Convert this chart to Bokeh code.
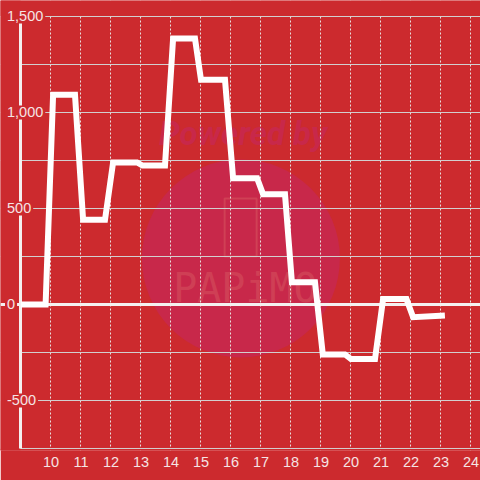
from bokeh.plotting import figure
from bokeh.models import Label, Span, FixedTicker, Range1d, BoxAnnotation
from bokeh.core.properties import value
from bokeh.embed import file_html
from bokeh.resources import INLINE

# ---- data ----
HOURS = [9.0, 9.82, 10.07, 10.8, 11.07, 11.8, 12.07, 12.87, 13.05, 13.8,
         14.07, 14.8, 15.0, 15.8, 16.07, 16.87, 17.07, 17.8, 18.03, 18.8,
         19.06, 19.8, 20.0, 20.8, 21.07, 21.85, 22.07, 23.13]
VALUES = [0, 0, 1092, 1092, 441, 441, 740, 740, 724, 724,
          1385, 1385, 1170, 1170, 658, 658, 574, 574, 116, 116,
          -260, -260, -284, -284, 28, 28, -66, -57]
X_TICKS = list(range(10, 25))
Y_LABEL_TICKS = [-500, 0, 500, 1000, 1500]
Y_GRID_TICKS = [-750, -500, -250, 0, 250, 500, 750, 1000, 1250, 1500]

BG = "#cc2a2e"
TXT = "#f5e4e4"
GRID = "#d2cfcf"
X_START, X_END = 8.3167, 24.3167
X_AXIS = 8.9833
Y_BOTTOM, Y_TOP = -750, 1500
Y_START, Y_END = -760.42, 1583.33

p = figure(width=480, height=480, output_backend="svg", toolbar_location=None,
           x_range=Range1d(X_START, X_END), y_range=Range1d(Y_START, Y_END),
           min_border_left=0, min_border_right=0, min_border_top=0,
           min_border_bottom=30)
p.styles = {"margin-left": "0px", "margin-top": "0px"}
p.background_fill_color = BG
p.border_fill_color = BG
p.outline_line_color = None

# grids
p.xgrid.ticker = FixedTicker(ticks=X_TICKS)
p.xgrid.grid_line_color = "#e8dede"
p.xgrid.grid_line_dash = "2 2"
p.xgrid.grid_line_width = 1
p.ygrid.ticker = FixedTicker(ticks=Y_GRID_TICKS)
p.ygrid.grid_line_color = GRID
p.ygrid.grid_line_width = 1

# x axis (labels only; line drawn below)
p.xaxis.ticker = FixedTicker(ticks=X_TICKS)
p.xaxis.axis_line_color = None
p.xaxis.major_tick_line_color = None
p.xaxis.minor_tick_line_color = None
p.xaxis.major_tick_out = 0
p.xaxis.major_tick_in = 0
p.xaxis.major_label_standoff = 6
p.xaxis.major_label_text_color = TXT
p.xaxis.major_label_text_font = "Liberation Sans"
p.xaxis.major_label_text_font_size = "14.5px"
p.yaxis.visible = False

# watermark (decoration)
wm = p.circle(x=[16.33], y=[240], radius=99, radius_units="screen",
              fill_color="#c8284a", line_color=None)
wm.level = "image"
t1 = p.text(x=[16.4], y=[890], text=["Powered by"], text_font=value("Roboto"),
            text_font_style="bold italic", text_font_size="33px",
            text_color="#c8284a", text_align="center", text_baseline="middle")
t1.level = "image"
ph = p.rect(x=[16.32], y=[401], width=32, height=58, width_units="screen",
            height_units="screen", fill_color=None, line_color="#d34a5a",
            line_width=2, line_alpha=0.7)
ph.level = "image"
t2 = p.text(x=[16.48], y=[88], text=["PAPiMO"], text_font=value("DejaVu Sans Mono"),
            text_font_size="40px", text_color="#d34a5a", text_alpha=0.7,
            text_align="center", text_baseline="middle")
t2.level = "image"

# hide grid outside the axes box
p.add_layout(BoxAnnotation(right=X_AXIS, fill_color=BG, fill_alpha=1.0,
                           line_color=None, level="underlay"))
p.add_layout(BoxAnnotation(bottom=Y_TOP + 3, fill_color=BG, fill_alpha=1.0,
                           line_color=None, level="underlay"))
p.add_layout(BoxAnnotation(top=Y_BOTTOM, fill_color=BG, fill_alpha=1.0,
                           line_color=None, level="underlay"))

# zero line
zero = Span(location=0, dimension="width", line_color="#f4f0f0", line_width=3)
zero.level = "underlay"
p.add_layout(zero)

# x axis line and y axis line
p.segment(x0=[X_AXIS], y0=[Y_BOTTOM], x1=[X_END], y1=[Y_BOTTOM],
          line_color=GRID, line_width=1)
p.segment(x0=[X_AXIS], y0=[Y_BOTTOM], x1=[X_AXIS], y1=[Y_TOP],
          line_color="#f4f0f0", line_width=3)

# data line
p.line(HOURS, VALUES, line_color="white", line_width=6, line_join="miter")

# y tick labels with background
for t in Y_LABEL_TICKS:
    p.add_layout(Label(x=X_AXIS, y=t, x_offset=-15.5, text=f"{t:,}",
                       text_align="left", text_baseline="middle",
                       text_color=TXT, text_font="Liberation Sans",
                       text_font_size="14.5px", background_fill_color=BG,
                       padding=2))

open("out.html", "w").write(file_html(p, INLINE))
